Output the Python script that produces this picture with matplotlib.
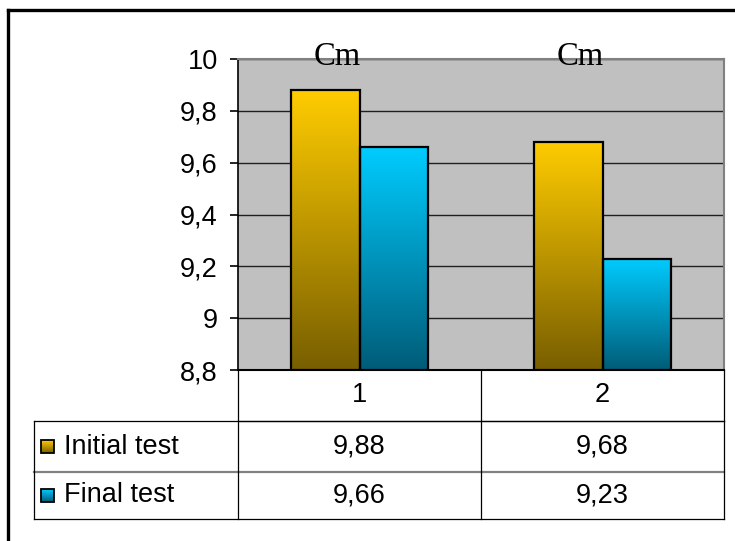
import numpy as np
import matplotlib.pyplot as plt
from matplotlib.patches import Rectangle
from matplotlib.ticker import FuncFormatter, MultipleLocator

# данные
categories = ['1', '2']
series_names = ['Initial test', 'Final test']
initial_vals = [9.88, 9.68]
final_vals = [9.66, 9.23]
group_titles = ['Cm', 'Cm']

# градиенты: верх -> низ
grad_colors = [((1.0, 0.80, 0.0), (0.47, 0.37, 0.0)),
               ((0.0, 0.80, 1.0), (0.0, 0.36, 0.47))]

W, H = 735, 541
fig = plt.figure(figsize=(W / 100, H / 100), dpi=100)
fig.patch.set_facecolor('white')

# область графика в пикселях
px_left, px_right, px_top, px_bottom = 238, 724, 59, 370
ax = fig.add_axes([px_left / W, 1 - px_bottom / H,
                   (px_right - px_left) / W, (px_bottom - px_top) / H])
ax.set_facecolor('#c0c0c0')


def gradient(c_top, c_bot, n=256):
    t = np.linspace(0, 1, n)[:, None, None]
    return (1 - t) * np.array(c_top) + t * np.array(c_bot)


x = np.arange(len(categories))
bw = 0.282
ymin, ymax = 8.8, 10.0
for k, vals in enumerate([initial_vals, final_vals]):
    off = (k - 0.5) * bw
    bars = ax.bar(x + off, np.array(vals) - ymin, bw, bottom=ymin,
                  facecolor='none', edgecolor='black', linewidth=1.6, zorder=4)
    for b in bars:
        x0, y0 = b.get_x(), b.get_y()
        im = ax.imshow(gradient(*grad_colors[k]), aspect='auto', origin='upper',
                       extent=[x0, x0 + b.get_width(), y0, y0 + b.get_height()],
                       zorder=3)
        im.set_clip_path(b)

ax.set_xlim(-0.5, len(categories) - 0.5)
ax.set_ylim(ymin, ymax)
ax.yaxis.set_major_locator(MultipleLocator(0.2))
ax.yaxis.set_major_formatter(FuncFormatter(lambda v, p: f'{v:.1f}'.rstrip('0').rstrip('.').replace('.', ',')))
ax.grid(axis='y', color='#202020', linewidth=1.0, zorder=1)
ax.set_axisbelow(True)
ax.set_xticks([])
ax.tick_params(axis='y', direction='out', length=6, width=1.2, pad=8.5,
               labelsize=19.5, colors='black')
for lab in ax.get_yticklabels():
    lab.set_fontfamily('Liberation Sans')
ax.spines['left'].set_color('black')
ax.spines['left'].set_linewidth(1.2)
ax.spines['bottom'].set_color('black')
ax.spines['bottom'].set_linewidth(1.5)
for s in ['top', 'right']:
    ax.spines[s].set_color('#808080')
    ax.spines[s].set_linewidth(1.5)

for i, t in enumerate(group_titles):
    ax.text(i - 0.09, 9.977, t, ha='center', va='baseline', fontsize=23.5,
            family='Liberation Serif', zorder=6, clip_on=False)

# таблица данных поверх всей фигуры (координаты в пикселях)
tab = fig.add_axes([0, 0, 1, 1], facecolor='none')
tab.set_axis_off()

col_w = (px_right - px_left) / len(categories)
tbl_left = 34
row_lines = [px_bottom, 421, 472, 519]
lc = 'black'
lw = 0.9
tab.plot([px_left, px_right], [row_lines[1]] * 2, color=lc, lw=lw)
tab.plot([tbl_left, px_right], [row_lines[1]] * 2, color=lc, lw=lw)
tab.plot([tbl_left, px_right], [row_lines[2]] * 2, color='#808080', lw=1.6)
tab.plot([tbl_left, px_right], [row_lines[3]] * 2, color=lc, lw=lw)
tab.plot([tbl_left, tbl_left], [row_lines[1], row_lines[3]], color=lc, lw=lw)
for j in range(len(categories) + 1):
    xx = px_left + j * col_w
    tab.plot([xx, xx], [row_lines[0], row_lines[3]], color=lc, lw=lw)

fs = 19.5
tf = 'Liberation Sans'
for i, c in enumerate(categories):
    cx = px_left + (i + 0.5) * col_w
    tab.text(cx, (row_lines[0] + row_lines[1]) / 2, c, ha='center', va='center',
             fontsize=fs, family=tf)

for r, (name, vals) in enumerate(zip(series_names, [initial_vals, final_vals])):
    cy = (row_lines[r + 1] + row_lines[r + 2]) / 2
    sq = 13
    tab.imshow(gradient(*grad_colors[r]), aspect='auto', origin='upper',
               extent=[41, 41 + sq, cy + sq / 2, cy - sq / 2], zorder=3)
    tab.add_patch(Rectangle((41, cy - sq / 2), sq, sq, facecolor='none',
                            edgecolor='black', lw=1.3, zorder=4))
    tab.text(64, cy, name, ha='left', va='center', fontsize=fs, family=tf)
    for i, v in enumerate(vals):
        cx = px_left + (i + 0.5) * col_w
        tab.text(cx, cy, f'{v:.2f}'.replace('.', ','), ha='center', va='center',
                 fontsize=fs, family=tf)

# рамка сверху и слева
tab.plot([8, W], [10, 10], color='black', lw=2.4)
tab.plot([8, 8], [10, H], color='black', lw=2.4)

tab.set_xlim(0, W)
tab.set_ylim(H, 0)

fig.savefig('out.png', dpi=100)
